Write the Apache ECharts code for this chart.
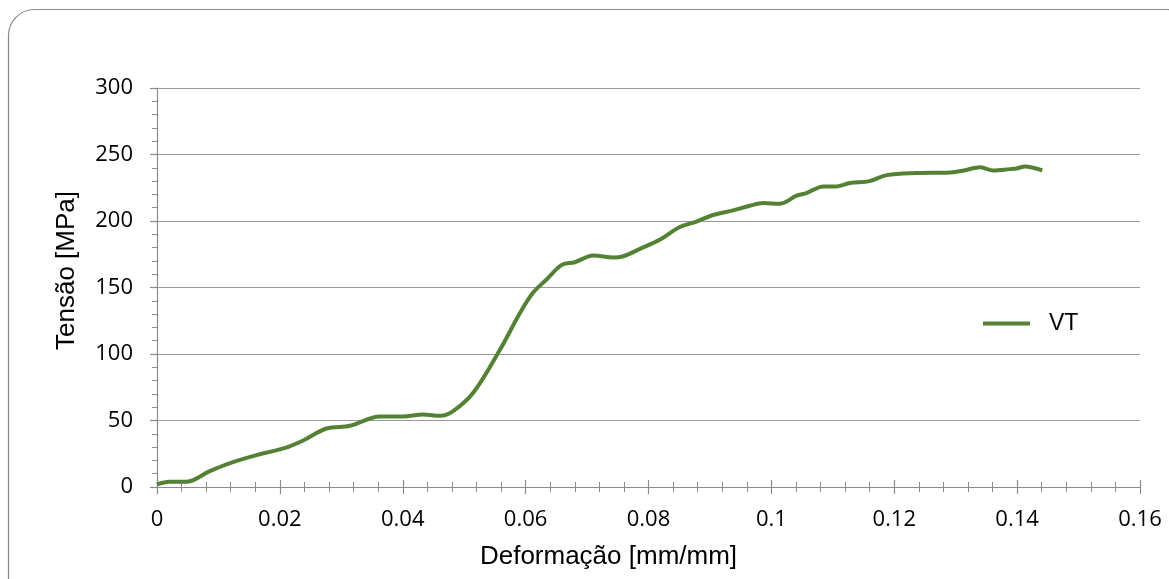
<!DOCTYPE html>
<html>
<head>
<meta charset="utf-8">
<script src="https://cdn.jsdelivr.net/npm/echarts@6/dist/echarts.min.js"></script>
<style>
  html, body { margin: 0; padding: 0; background: #fff; }
  #chart { width: 1169px; height: 579px; }
</style>
</head>
<body>
<div id="chart"></div>
<script>
// Tensile test curve, specimen VT
const seriesName = 'VT';
const strain = [0, 0.002, 0.0048, 0.0086, 0.0119, 0.0162, 0.0206, 0.0238, 0.0276, 0.0314,
  0.0363, 0.040, 0.0433, 0.0461, 0.0482, 0.0515, 0.0558, 0.0591, 0.0612,
  0.0634, 0.0659, 0.068, 0.071, 0.0743, 0.0759, 0.0786, 0.0819, 0.0851, 0.0878,
  0.0905, 0.0938, 0.0965, 0.0987, 0.1014, 0.1041, 0.1057, 0.1085, 0.1106, 0.1128,
  0.1160, 0.1188, 0.1237, 0.1291, 0.1313, 0.1340, 0.1361, 0.1388, 0.1399, 0.1413,
  0.1426, 0.1441];
const stress = [2, 4, 4, 12, 18, 24, 29, 35, 44, 46,
  53, 53, 54.5, 53.5, 57, 71, 103, 131, 146,
  156, 167, 169, 174, 172.5, 173.5, 179, 186, 195.5, 199.5,
  204.5, 208, 211.5, 213.5, 213, 219, 221, 226, 226, 228.5,
  230, 234.5, 236, 236.5, 238, 240.5, 238, 239, 239.5, 241,
  240, 238];
const xTicks = [0, 0.02, 0.04, 0.06, 0.08, 0.1, 0.12, 0.14, 0.16];
const yTicks = [0, 50, 100, 150, 200, 250, 300];

const points = strain.map((s, i) => [s, stress[i]]);
const tickFont = '"Open Sans", "Noto Sans", sans-serif';
const titleFont = '"Liberation Sans", Arial, sans-serif';
const axisGrey = '#8c8c8c';
const lineGreen = '#548235';

const chart = echarts.init(document.getElementById('chart'), null, { renderer: 'canvas' });

// Primary axes carry labels and outward ticks; twin axes add the inward half of each tick
const baseX = {
  type: 'value',
  min: xTicks[0], max: xTicks[xTicks.length - 1], interval: 0.02
};
const baseY = {
  type: 'value',
  min: yTicks[0], max: yTicks[yTicks.length - 1], interval: 50
};

chart.setOption({
  backgroundColor: '#fff',
  animation: false,
  graphic: [{
    type: 'rect',
    shape: { x: 8.5, y: 9.5, width: 1185, height: 620, r: 26 },
    style: { fill: 'none', stroke: '#8a8a8a', lineWidth: 1.2 },
    silent: true, z: -1
  }],
  grid: { left: 157, right: 29, top: 88, bottom: 92 },
  legend: {
    data: [{ name: seriesName, icon: 'rect' }],
    left: 983, top: 312, padding: 0,
    itemWidth: 47, itemHeight: 4, itemGap: 10,
    textStyle: { fontFamily: titleFont, fontSize: 23, color: '#000', padding: [0, 0, 0, 14] }
  },
  xAxis: [
    Object.assign({}, baseX, {
      name: 'Deformação [mm/mm]',
      nameLocation: 'middle', nameGap: 57,
      nameTextStyle: { fontFamily: titleFont, fontSize: 26, color: '#000', padding: [0, 80, 0, 0] },
      axisLine: { show: true, lineStyle: { color: axisGrey, width: 1.2 } },
      axisTick: { show: true, length: 7, lineStyle: { color: axisGrey, width: 1.2 } },
      minorTick: { show: true, splitNumber: 5, length: 5, lineStyle: { color: axisGrey, width: 1 } },
      axisLabel: {
        margin: 22, fontFamily: tickFont, fontSize: 22, color: '#000',
        formatter: v => String(+v.toFixed(2))
      },
      splitLine: { show: false }
    }),
    Object.assign({}, baseX, {
      position: 'bottom',
      axisLine: { show: false },
      axisTick: { show: true, inside: true, length: 7, lineStyle: { color: axisGrey, width: 1.2 } },
      minorTick: { show: true, splitNumber: 5, length: 5, lineStyle: { color: axisGrey, width: 1 } },
      axisLabel: { show: false },
      splitLine: { show: false }
    })
  ],
  yAxis: [
    Object.assign({}, baseY, {
      name: 'Tensão [MPa]',
      nameLocation: 'middle', nameGap: 77, nameRotate: 90,
      nameTextStyle: { fontFamily: titleFont, fontSize: 26, color: '#000', padding: [0, 0, 0, 34] },
      axisLine: { show: true, lineStyle: { color: axisGrey, width: 1.2 } },
      axisTick: { show: true, length: 7, lineStyle: { color: axisGrey, width: 1.2 } },
      minorTick: { show: true, splitNumber: 5, length: 5, lineStyle: { color: axisGrey, width: 1 } },
      axisLabel: { margin: 24, fontFamily: tickFont, fontSize: 22, color: '#000' },
      splitLine: { show: true, lineStyle: { color: '#9a9a9a', width: 1.2 } }
    }),
    Object.assign({}, baseY, {
      position: 'left',
      axisLine: { show: false },
      axisTick: { show: false },
      minorTick: { show: true, splitNumber: 5, length: 5, lineStyle: { color: axisGrey, width: 1 } },
      axisLabel: { show: false },
      splitLine: { show: false }
    })
  ],
  series: [{
    name: seriesName,
    type: 'line',
    xAxisIndex: 0, yAxisIndex: 0,
    data: points,
    smooth: 0.35,
    showSymbol: false,
    symbol: 'none',
    lineStyle: { color: lineGreen, width: 4 },
    itemStyle: { color: lineGreen }
  }]
});
</script>
</body>
</html>
